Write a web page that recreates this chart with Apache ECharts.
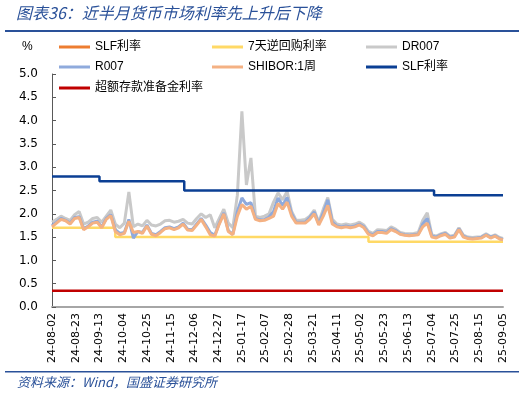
<!DOCTYPE html>
<html>
<head>
<meta charset="utf-8">
<script src="https://cdn.jsdelivr.net/npm/echarts@6/dist/echarts.min.js"></script>
<style>
html,body{margin:0;padding:0;background:#fff;}
#main{width:526px;height:398px;}
</style>
</head>
<body>
<div id="main"></div>
<script>
// days counted from 2024-08-02
var dayIdx = [0,4,8,12,16,20,24,28,32,36,40,44,48,52,56,60,64,68,72,76,80,84,88,92,96,100,
  104,108,112,116,120,124,128,132,136,140,144,148,152,156,160,164,168,172,176,180,184,188,192,196,200,
  204,208,212,216,220,224,228,232,236,240,244,248,252,256,260,264,268,272,276,280,284,288,292,296,300,
  304,308,312,316,320,324,328,332,336,340,344,348,352,356,360,364,368,372,376,380,384,388,392,396,399];

var dr007 = [1.82,1.88,1.95,1.90,1.86,1.98,2.05,1.78,1.82,1.90,1.92,1.82,1.95,2.08,1.78,1.70,1.80,2.47,1.72,1.78,1.74,1.86,1.76,1.74,1.78,1.85,
  1.86,1.82,1.84,1.88,1.80,1.78,1.90,2.00,1.92,1.98,1.70,1.90,2.10,1.80,1.70,2.40,4.20,2.62,3.20,1.95,1.92,1.95,2.00,2.25,2.45,
  2.30,2.48,2.05,1.86,1.86,1.88,1.95,2.08,1.82,2.10,2.35,1.88,1.78,1.76,1.78,1.76,1.78,1.82,1.76,1.62,1.58,1.66,1.65,1.64,1.72,
  1.67,1.60,1.58,1.57,1.58,1.60,1.86,2.02,1.55,1.52,1.57,1.60,1.52,1.54,1.70,1.54,1.50,1.49,1.50,1.51,1.57,1.51,1.55,1.49,1.47];

var r007 = [1.75,1.82,1.90,1.86,1.80,1.92,1.94,1.68,1.74,1.82,1.84,1.72,1.90,1.98,1.66,1.58,1.60,1.88,1.48,1.62,1.60,1.76,1.58,1.55,1.62,1.70,
  1.72,1.68,1.72,1.80,1.67,1.66,1.78,1.90,1.76,1.60,1.54,1.80,2.02,1.64,1.56,2.05,2.34,2.20,2.24,1.90,1.87,1.88,1.93,2.05,2.34,
  2.18,2.35,2.00,1.82,1.82,1.82,1.92,2.04,1.78,2.02,2.30,1.82,1.74,1.72,1.74,1.72,1.74,1.78,1.72,1.58,1.55,1.62,1.62,1.60,1.68,
  1.64,1.57,1.55,1.54,1.55,1.56,1.78,1.90,1.52,1.50,1.55,1.58,1.50,1.52,1.68,1.52,1.48,1.47,1.48,1.50,1.55,1.50,1.53,1.47,1.45];

var shibor1w = [1.72,1.80,1.88,1.85,1.78,1.90,1.92,1.66,1.72,1.80,1.82,1.70,1.88,1.96,1.62,1.55,1.58,1.84,1.60,1.62,1.58,1.74,1.56,1.53,1.60,1.68,
  1.70,1.66,1.70,1.78,1.65,1.64,1.76,1.88,1.72,1.55,1.52,1.78,2.00,1.62,1.55,1.95,2.20,2.10,2.16,1.88,1.85,1.86,1.90,1.95,2.22,
  2.10,2.25,1.95,1.80,1.80,1.80,1.88,2.00,1.76,1.95,2.18,1.78,1.72,1.70,1.72,1.70,1.72,1.76,1.70,1.56,1.53,1.60,1.60,1.58,1.66,
  1.62,1.56,1.54,1.53,1.54,1.55,1.72,1.80,1.50,1.48,1.53,1.56,1.48,1.50,1.66,1.50,1.47,1.46,1.47,1.48,1.54,1.48,1.52,1.46,1.44];

// policy rates: [day, value] at each change
var slfSteps = [[0,2.80],[42,2.70],[117,2.50],[338,2.40],[399,2.40]];
var repoSteps = [[0,1.70],[56,1.50],[280,1.40],[399,1.40]];
var excessSteps = [[0,0.35],[399,0.35]];

var yTicks = ['0.0','0.5','1.0','1.5','2.0','2.5','3.0','3.5','4.0','4.5','5.0'];

function zip(xs, ys){
  return xs.map(function(x,i){ return [x, ys[i]]; });
}
function dayLabel(v){
  var d = new Date(Date.UTC(2024,7,2) + v*86400000);
  var p = function(n){ return (n<10?'0':'')+n; };
  return p(d.getUTCFullYear()%100)+'-'+p(d.getUTCMonth()+1)+'-'+p(d.getUTCDate());
}

var chart = echarts.init(document.getElementById('main'));
var cjk = '"Noto Sans CJK SC", "Liberation Sans", sans-serif';
var axisFont = '"DejaVu Sans", sans-serif';
var legendText = {fontSize:12, color:'#000', fontFamily:'"Liberation Sans","Noto Sans CJK SC",sans-serif'};

function leg(name, left, top){
  return {data:[name], left:left, top:top, icon:'rect', itemWidth:31, itemHeight:3,
    itemGap:0, textStyle:legendText, padding:0, selectedMode:false};
}

chart.setOption({
  animation:false,
  backgroundColor:'#fff',
  grid:{left:52, right:23, top:74, bottom:91},
  legend:[
    leg('SLF利率',59,41), leg('7天逆回购利率',212,41), leg('DR007',366,41),
    leg('R007',59,61), leg('SHIBOR:1周',212,61), leg('SLF利率 ',366,61),
    leg('超额存款准备金利率',59,82)
  ],
  graphic:[
    {type:'text', left:16, top:5, style:{text:'图表36：近半月货币市场利率先上升后下降', fontSize:16,
      fontStyle:'italic', fill:'#2A5199', fontFamily:cjk}},
    {type:'rect', shape:{x:5, y:30, width:514, height:2}, style:{fill:'#2A5199'}},
    {type:'text', left:22, top:41, style:{text:'%', fontSize:12, fill:'#000', fontFamily:'"Liberation Sans",sans-serif'}},
    {type:'rect', shape:{x:5, y:371, width:514, height:1.5}, style:{fill:'#2A5199'}},
    {type:'text', left:17, top:376, style:{text:'资料来源：Wind，国盛证券研究所', fontSize:13,
      fontStyle:'italic', fill:'#2A5199', fontFamily:cjk}}
  ],
  xAxis:{
    type:'value', min:0, max:399, interval:21,
    axisLine:{lineStyle:{color:'#A6A6A6', width:2}},
    axisTick:{show:false},
    splitLine:{show:false},
    axisLabel:{rotate:90, fontSize:11, color:'#000', margin:6,
      fontFamily:axisFont, formatter:dayLabel}
  },
  yAxis:{
    type:'value', min:0, max:5, interval:0.5,
    axisLine:{show:true, lineStyle:{color:'#595959', width:1}},
    axisTick:{show:true, inside:true, length:4, lineStyle:{color:'#595959'}},
    splitLine:{show:false},
    axisLabel:{fontSize:12, color:'#000', margin:14,
      fontFamily:axisFont,
      formatter:function(v){ return yTicks[Math.round(v/0.5)]; }}
  },
  series:[
    {name:'SLF利率', type:'line', data:[], showSymbol:false, color:'#ED7D31', lineStyle:{width:3}},
    {name:'7天逆回购利率', type:'line', step:'end', data:repoSteps, showSymbol:false, color:'#FFD966', lineStyle:{width:2.5}},
    {name:'DR007', type:'line', data:zip(dayIdx,dr007), showSymbol:false, color:'#C9C9C9', lineStyle:{width:3}},
    {name:'R007', type:'line', data:zip(dayIdx,r007), showSymbol:false, color:'#8FAADC', lineStyle:{width:3}},
    {name:'SHIBOR:1周', type:'line', data:zip(dayIdx,shibor1w), showSymbol:false, color:'#F4B183', lineStyle:{width:3}},
    {name:'SLF利率 ', type:'line', step:'end', data:slfSteps, showSymbol:false, color:'#0B3F94', lineStyle:{width:2.5}},
    {name:'超额存款准备金利率', type:'line', data:excessSteps, showSymbol:false, color:'#C00000', lineStyle:{width:2.5}}
  ]
});
</script>
</body>
</html>
